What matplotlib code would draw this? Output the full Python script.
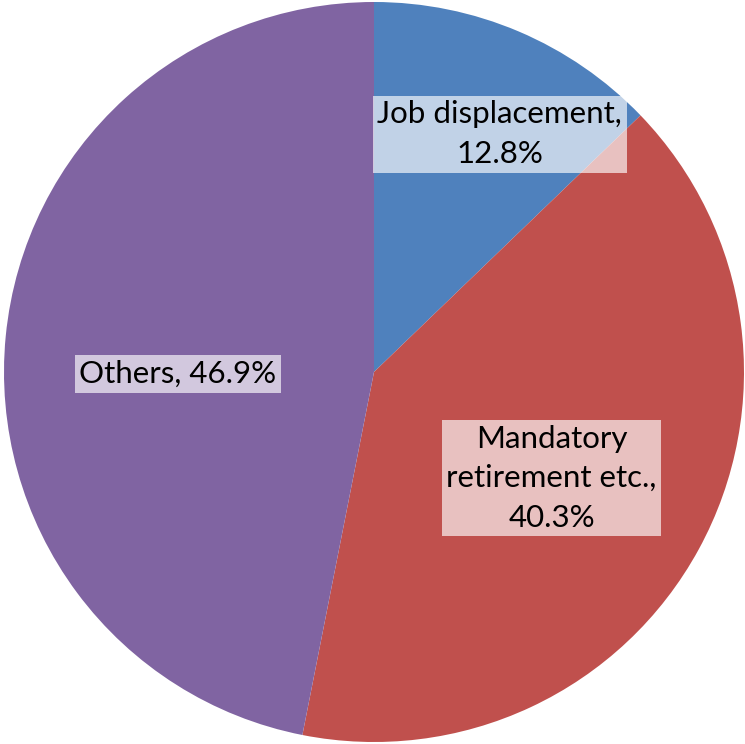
import matplotlib.pyplot as plt

categories = ['Job displacement,', 'Mandatory\nretirement etc.,', 'Others,']
shares = [12.8, 40.3, 46.9]
colors = ['#4F81BD', '#C0504D', '#8064A2']

# label centres in pie units (radius = 1) and whether the value goes on its own line
label_pos = [(0.34, 0.643), (0.48, -0.287), (-0.53, -0.005)]
own_line = [True, True, False]

fig = plt.figure(figsize=(7.45, 7.44), dpi=100)
ax = fig.add_axes([0, 0, 1, 1])
ax.pie(shares, colors=colors, startangle=90, counterclock=False,
       radius=1, wedgeprops=dict(linewidth=0))
ax.set_aspect('equal')
ax.set_xlim(-1.0108, 1.0027)
ax.set_ylim(-1.0054, 1.0054)
ax.axis('off')

for name, val, (x, y), nl in zip(categories, shares, label_pos, own_line):
    sep = '\n' if nl else ' '
    ax.text(x, y, f'{name}{sep}{val:.1f}%', ha='center', va='center',
            fontsize=22.5, family='Lato', linespacing=1.5,
            bbox=dict(boxstyle='square,pad=0.15', fc='white', ec='none', alpha=0.65))

plt.savefig('out.png')
